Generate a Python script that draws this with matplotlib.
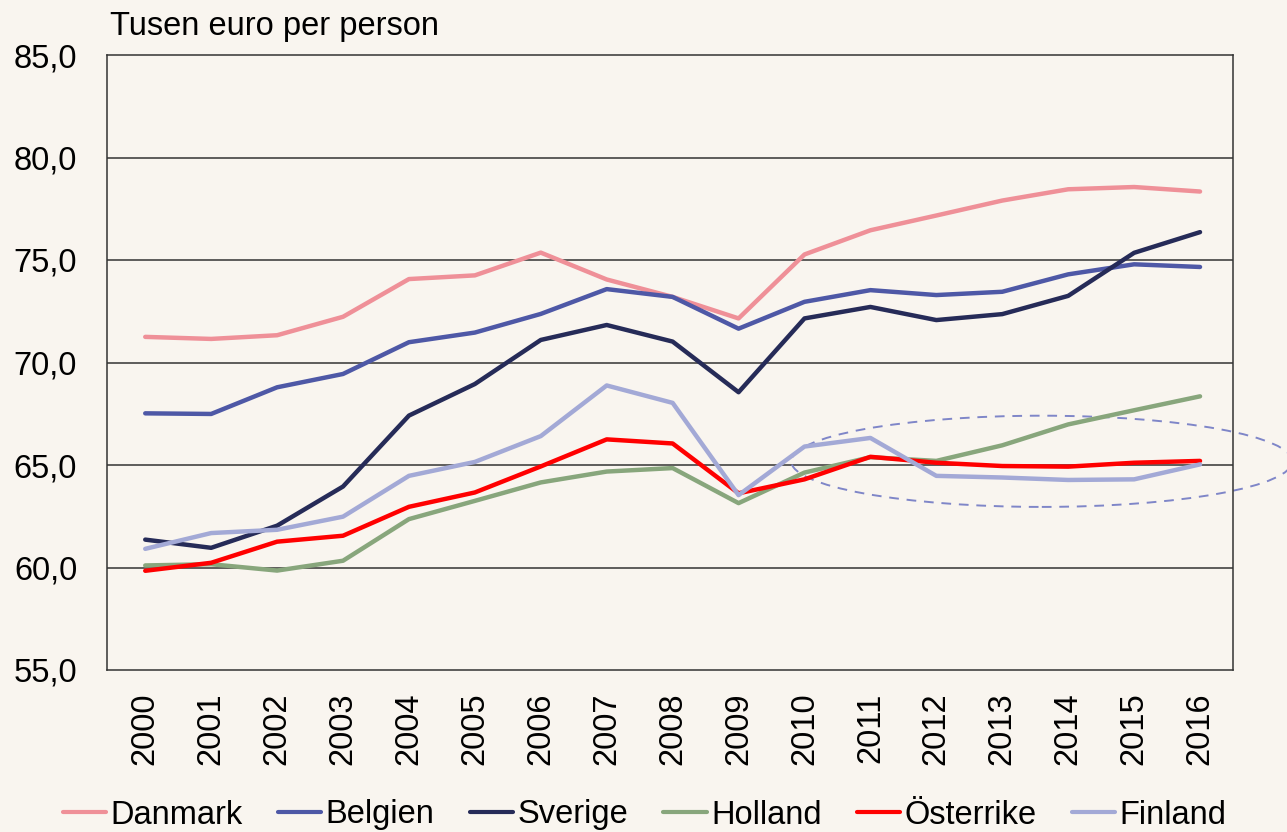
import numpy as np
import matplotlib
matplotlib.use("Agg")
import matplotlib.pyplot as plt
from matplotlib.patches import Ellipse

plt.rcParams['font.family'] = ['Liberation Sans', 'DejaVu Sans']

years = [str(y) for y in range(2000, 2017)]

danmark = [71.25, 71.15, 71.33, 72.23, 74.07, 74.25, 75.36, 74.05, 73.2, 72.15,
           75.27, 76.45, 77.17, 77.9, 78.45, 78.56, 78.34]
belgien = [67.52, 67.49, 68.79, 69.44, 70.99, 71.46, 72.37, 73.58, 73.2, 71.65,
           72.96, 73.53, 73.29, 73.45, 74.3, 74.79, 74.66]
sverige = [61.36, 60.96, 62.04, 63.95, 67.41, 68.95, 71.1, 71.83, 71.02, 68.55,
           72.15, 72.71, 72.07, 72.36, 73.25, 75.35, 76.36]
holland = [60.1, 60.16, 59.85, 60.33, 62.36, 63.25, 64.15, 64.68, 64.85, 63.14,
           64.63, 65.38, 65.2, 65.96, 66.98, 67.67, 68.35]
osterrike = [59.84, 60.23, 61.26, 61.55, 62.96, 63.66, 64.93, 66.25, 66.05, 63.62,
             64.3, 65.4, 65.11, 64.95, 64.92, 65.11, 65.2]
finland = [60.91, 61.68, 61.84, 62.48, 64.47, 65.15, 66.41, 68.88, 68.03, 63.53,
           65.9, 66.32, 64.47, 64.39, 64.27, 64.3, 65.03]

series = [
    ("Danmark", danmark, "#ef9098"),
    ("Belgien", belgien, "#4e58a6"),
    ("Sverige", sverige, "#262b58"),
    ("Holland", holland, "#88a67c"),
    ("Österrike", osterrike, "#ff0000"),
    ("Finland", finland, "#a3a9d6"),
]

bg = "#f9f5ef"
fig = plt.figure(figsize=(12.87, 8.32), dpi=100, facecolor=bg)
ax = fig.add_axes([107/1287, 1-670/832, (1233-107)/1287, (670-55)/832])
ax.set_facecolor(bg)

x = np.arange(len(years))
for name, vals, col in series:
    ax.plot(x, vals, color=col, lw=3.2, label=name, solid_capstyle='round')

ax.set_xlim(-0.58, 16.5)
ax.set_ylim(55, 85)
ax.set_yticks(np.arange(55, 86, 5))
ax.set_yticklabels([f"{v:.1f}".replace(".", ",") for v in np.arange(55, 86, 5)], fontsize=23.5)
ax.set_xticks(x)
ax.set_xticklabels(years, rotation=90, fontsize=23.5)
ax.tick_params(axis='y', length=0, pad=21.5)
ax.tick_params(axis='x', length=0, pad=16)
for v in range(60, 85, 5):
    ax.axhline(v, color='#333333', lw=1.1, zorder=0)
for s in ax.spines.values():
    s.set_color('#333333')
    s.set_linewidth(1.1)

ell = Ellipse((13.6, 65.18), 7.6, 4.45, fill=False, ls=(0, (5, 4)),
              ec='#7f86c8', lw=1.4, clip_on=False)
ax.add_patch(ell)

fig.text(110/1287, 1-27/832, "Tusen euro per person", fontsize=23.5, va='center', ha='left')

leg = fig.legend(loc='center', bbox_to_anchor=(0.501, 1-815/832), ncol=6, frameon=False,
                 fontsize=23.5, handlelength=1.32, handletextpad=0.14, columnspacing=1.08)
for h in leg.get_lines():
    h.set_linewidth(3)

fig.savefig("out.png", dpi=100, facecolor=bg)
